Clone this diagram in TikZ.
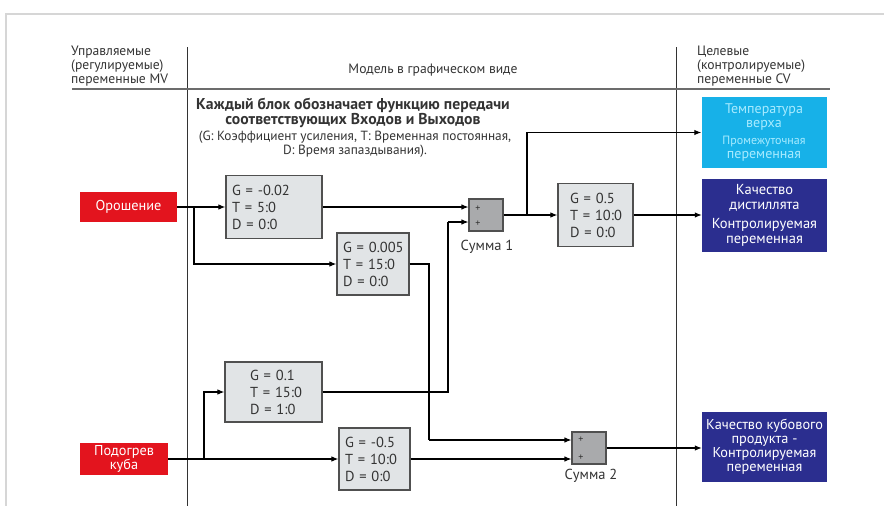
\documentclass[tikz,border=0pt]{standalone}
\usepackage{fontspec}
\setmainfont{PT Sans}
\usetikzlibrary{arrows.meta,calc}
\definecolor{redbox}{HTML}{E3141E}
\definecolor{navybox}{HTML}{2B2E8F}
\definecolor{cyanbox}{HTML}{17B1E8}
\definecolor{cyantext}{HTML}{A8EBFF}
\definecolor{blkfill}{HTML}{E1E4E6}
\definecolor{blkdraw}{HTML}{505050}
\definecolor{sumfill}{HTML}{A9AAAC}
\definecolor{txtgray}{HTML}{333333}
\definecolor{framegray}{HTML}{D6D6D6}
\begin{document}
\begin{tikzpicture}[x=1pt,y=-1pt,
  conn/.style={line width=1.1pt,black},
  arr/.style={conn,-{Latex[length=7pt,width=5.5pt]}},
  mvbox/.style={fill=redbox,text=white,inner sep=0pt,align=center,font=\fontsize{14.3}{14}\selectfont},
  gblk/.style={draw=blkdraw,fill=blkfill,line width=1.2pt,align=left,inner ysep=0pt,text=txtgray,font=\fontsize{14.5}{17}\selectfont},
  sumblk/.style={draw=blkdraw,fill=sumfill,line width=1.1pt,minimum width=34pt,minimum height=32pt,inner sep=0pt},
  cvbox/.style={inner sep=0pt,align=center,minimum width=125pt},
  hdr/.style={text=txtgray,font=\fontsize{13.6}{14}\selectfont,inner sep=0pt},
  lbl/.style={text=txtgray,font=\fontsize{14.5}{14}\selectfont,inner sep=0pt},
  plus/.style={text=txtgray,font=\fontsize{10}{10}\selectfont,inner sep=0pt}]
\useasboundingbox (0,0) rectangle (884,506);
% frame
\draw[framegray,line width=1.5pt] (6,506) -- (6,14) -- (884,14);
% column lines
\draw[txtgray,line width=0.9pt] (187,47) -- (187,506);
\draw[txtgray,line width=0.9pt] (676,47) -- (676,506);
\draw[gray!85!black,line width=2pt] (72,89) -- (830,89);
% headers
\node[hdr,anchor=west,align=left] (hmv) at (71,66) {Управляемые\\(регулируемые)\\переменные MV};
\node[hdr] (hmod) at (433,70) {Модель в графическом виде};
\node[hdr,anchor=west,align=left] (hcv) at (697,66) {Целевые\\(контролируемые)\\переменные CV};
\node[text=txtgray,font=\bfseries\fontsize{15.7}{15}\selectfont,align=center,inner sep=0pt] (title) at (353,112.5) {Каждый блок обозначает функцию передачи\\соответствующих Входов и Выходов};
\node[text=txtgray,font=\fontsize{13.3}{14}\selectfont,align=center,inner sep=0pt] (sub) at (355,144) {(G: Коэффициент усиления, T: Временная постоянная,\\D: Время запаздывания).};
% MV boxes
\node[mvbox,minimum width=97pt,minimum height=30pt] (oros) at (128.5,207) {Орошение};
\node[mvbox,minimum width=88pt,minimum height=32pt] (podog) at (124,459) {Подогрев\\куба};
% blocks
\node[gblk,text width=84pt,inner xsep=6pt,minimum height=63pt] (b1) at (274,207) {G~=~-0.02\\T~=~5:0\\D~=~0:0};
\node[gblk,text width=60pt,inner xsep=6pt,minimum height=62pt] (b2) at (373,264) {G~=~0.005\\T~=~15:0\\D~=~0:0};
\node[gblk,text width=51pt,inner xsep=12pt,minimum height=63pt] (b3) at (595.5,215) {G~=~0.5\\T~=~10:0\\D~=~0:0};
\node[gblk,text width=47pt,inner xsep=25pt,minimum height=60pt] (b4) at (273.5,392) {G~=~0.1\\T~=~15:0\\D~=~1:0};
\node[gblk,text width=59pt,inner xsep=6pt,minimum height=62pt] (b5) at (374.5,459) {G~=~-0.5\\T~=~10:0\\D~=~0:0};
% sums
\node[sumblk] (s1) at (486,215) {};
\node[sumblk] (s2) at (589,448) {};
\node[plus] (s1p1) at (478,209) {+};
\node[plus] (s1p2) at (478,224) {+};
\node[plus] (s2p1) at (581,440) {+};
\node[plus] (s2p2) at (581,458) {+};
\node[lbl] (s1l) at (487,247) {Сумма 1};
\node[lbl] (s2l) at (591,476) {Сумма 2};
% CV boxes
\node[cvbox,fill=cyanbox,minimum height=71pt,text=cyantext,font=\fontsize{14}{14}\selectfont] (temp) at (764,132.5) {Температура\\верха\\[3pt]\fontsize{12}{12.5}\selectfont Промежуточная\\переменная};
\node[cvbox,fill=navybox,minimum height=73pt,text=white,font=\fontsize{14.5}{15}\selectfont] (dist) at (764.5,215) {Качество\\дистиллята\\[4pt]Контролируемая\\переменная};
\node[cvbox,fill=navybox,minimum height=70pt,text=white,font=\fontsize{14.3}{14}\selectfont] (kub) at (764.5,447) {Качество кубового\\продукта -\\Контролируемая\\переменная};
% junctions
\coordinate (j1) at (194,207);
\coordinate (j2) at (448,222);
\coordinate (j3) at (527,215);
\coordinate (j4) at (204,459);
\coordinate (j5) at (429,440);
% connectors
\draw[arr] (oros.east) -- (oros.east -| b1.west);
\draw[arr] (j1) |- (b2.west);
\draw[arr] (b1.east) -- (b1.east -| s1.west);
\draw[conn] (b4.east) -| (j2);
\draw[arr] (j2) -- (j2 -| s1.west);
\draw[arr] (s1.east) -- (s1.east -| b3.west);
\draw[arr] (j3) |- (temp.west);
\draw[arr] (b3.east) -- (b3.east -| dist.west);
\draw[arr] (podog.east) -- (podog.east -| b5.west);
\draw[arr] (j4) |- (b4.west);
\draw[conn] (b2.east) -| (j5);
\draw[arr] (j5) -- (j5 -| s2.west);
\draw[arr] (b5.east) -- (b5.east -| s2.west);
\draw[arr] (s2.east) -- (s2.east -| kub.west);
\end{tikzpicture}
\end{document}
